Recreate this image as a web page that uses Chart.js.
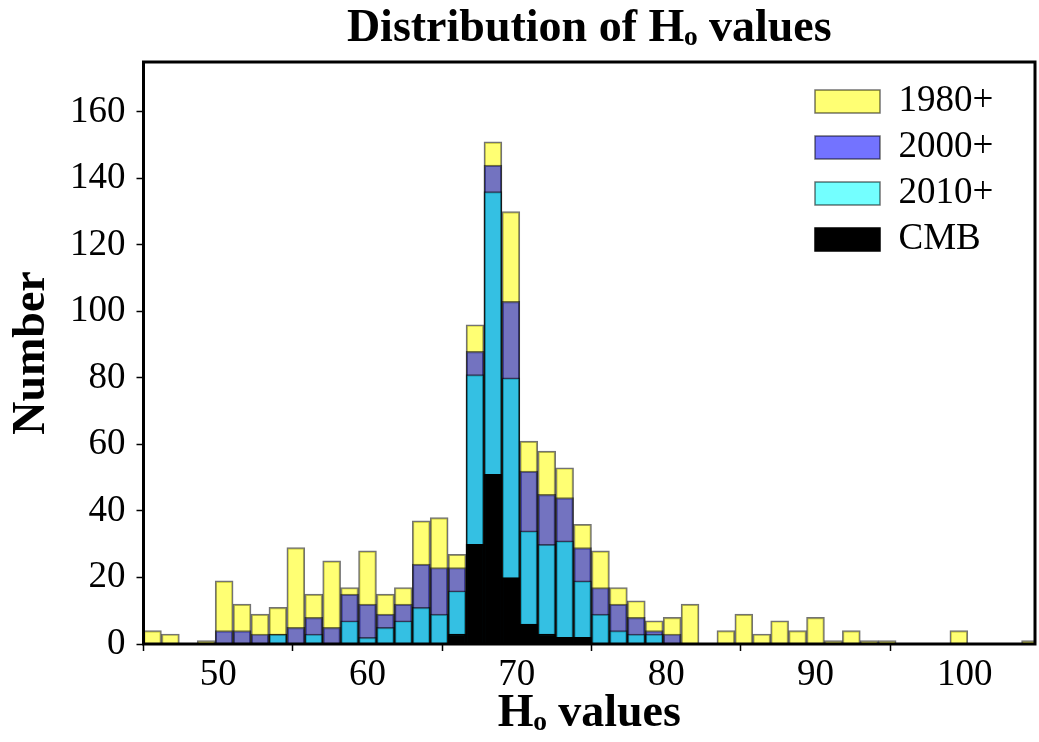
<!DOCTYPE html>
<html>
<head>
<meta charset="utf-8">
<script src="https://cdn.jsdelivr.net/npm/chart.js@4"></script>
<style>
  html, body { margin: 0; padding: 0; background: #fff; }
  canvas { display: block; }
</style>
</head>
<body>
<canvas id="hist" width="1039" height="742"></canvas>
<script>
// bin centres (bins are 1.2 wide, from 45 to 105)
const binCenters = [45.6, 46.8, 48.0, 49.2, 50.4, 51.6, 52.8, 54.0, 55.2, 56.4,
  57.6, 58.8, 60.0, 61.2, 62.4, 63.6, 64.8, 66.0, 67.2, 68.4,
  69.6, 70.8, 72.0, 73.2, 74.4, 75.6, 76.8, 78.0, 79.2, 80.4,
  81.6, 82.8, 84.0, 85.2, 86.4, 87.6, 88.8, 90.0, 91.2, 92.4,
  93.6, 94.8, 96.0, 97.2, 98.4, 99.6, 100.8, 102.0, 103.2, 104.4];

const counts1980 = [4, 3, 0, 1, 19, 12, 9, 11, 29, 15,
  25, 17, 28, 15, 17, 37, 38, 27, 96, 151,
  130, 61, 58, 53, 36, 28, 17, 13, 7, 8,
  12, 0, 4, 9, 3, 7, 4, 8, 1, 4,
  1, 1, 0, 0, 0, 4, 0, 0, 0, 1];

const counts2000 = [0, 0, 0, 0, 4, 4, 3, 3, 5, 8,
  5, 15, 12, 9, 12, 24, 23, 23, 88, 144,
  103, 52, 45, 44, 29, 17, 12, 8, 4, 3,
  0, 0, 0, 0, 0, 0, 0, 0, 0, 0,
  0, 0, 0, 0, 0, 0, 0, 0, 0, 0];

const counts2010 = [0, 0, 0, 0, 0, 0, 0, 3, 0, 3,
  0, 7, 2, 5, 7, 11, 9, 16, 81, 136,
  80, 34, 30, 31, 19, 9, 4, 3, 3, 0,
  0, 0, 0, 0, 0, 0, 0, 0, 0, 0,
  0, 0, 0, 0, 0, 0, 0, 0, 0, 0];

const countsCMB = [0, 0, 0, 0, 0, 0, 0, 0, 0, 0,
  0, 0, 0, 0, 0, 0, 0, 3, 30, 51,
  20, 6, 3, 2, 2, 0, 0, 0, 0, 0,
  0, 0, 0, 0, 0, 0, 0, 0, 0, 0,
  0, 0, 0, 0, 0, 0, 0, 0, 0, 0];

const xTicks = [50, 60, 70, 80, 90, 100];
const yTicks = [0, 20, 40, 60, 80, 100, 120, 140, 160];

const serif = "'Liberation Serif', 'DejaVu Serif', serif";
const edge = 'rgba(0,0,0,0.55)';

// black frame round the plot, and legend moved to the top right corner
const frame = {
  id: 'frame',
  afterLayout(chart) {
    const a = chart.chartArea;
    const lg = chart.legend;
    lg.left = a.right - 229;
    lg.right = lg.left + lg.width;
    lg.top = a.top + 12;
    lg.bottom = lg.top + lg.height;
  },
  afterDatasetsDraw(chart) {
    const { ctx, chartArea: a } = chart;
    ctx.save();
    ctx.strokeStyle = '#000';
    ctx.lineWidth = 3;
    ctx.strokeRect(a.left, a.top, a.right - a.left, a.bottom - a.top);
    ctx.restore();
  }
};

const tickGrid = {
  display: true,
  drawOnChartArea: false,
  drawTicks: true,
  tickLength: 7,
  tickWidth: 1.5,
  tickColor: '#000'
};

new Chart(document.getElementById('hist'), {
  type: 'bar',
  data: {
    labels: binCenters,
    datasets: [
      { label: '1980+', data: counts1980, backgroundColor: 'rgba(255,255,0,0.55)', borderColor: edge, borderWidth: 1.5, order: 4 },
      { label: '2000+', data: counts2000, backgroundColor: 'rgba(0,0,255,0.55)', borderColor: edge, borderWidth: 1.5, order: 3 },
      { label: '2010+', data: counts2010, backgroundColor: 'rgba(0,255,255,0.55)', borderColor: edge, borderWidth: 1.5, order: 2 },
      { label: 'CMB', data: countsCMB, backgroundColor: '#000', borderColor: '#000', borderWidth: 1.5, order: 1 }
    ]
  },
  options: {
    responsive: false,
    animation: false,
    layout: { padding: { left: 0, right: 4, top: 0, bottom: 0 } },
    datasets: {
      bar: { grouped: false, categoryPercentage: 1, barPercentage: 1 }
    },
    plugins: {
      tooltip: { enabled: false },
      title: {
        display: true,
        fullSize: false,
        text: 'Distribution of Hₒ values',
        color: '#000',
        font: { family: serif, size: 46, weight: 'bold' },
        padding: { top: 1.5, bottom: 5.3 }
      },
      legend: {
        position: 'chartArea',
        align: 'start',
        labels: {
          color: '#000',
          font: { family: serif, size: 37 },
          boxWidth: 65,
          boxHeight: 23,
          padding: 9,
          sort: (a, b) => a.datasetIndex - b.datasetIndex
        }
      }
    },
    scales: {
      x: {
        type: 'linear',
        offset: false,
        min: 45,
        max: 104.7,
        afterFit: (s) => { s.height = 98; },
        afterBuildTicks: (s) => { s.ticks = xTicks.map(v => ({ value: v })); },
        grid: tickGrid,
        border: { display: false },
        ticks: { color: '#000', font: { family: serif, size: 37 }, padding: 2, maxRotation: 0 },
        title: {
          display: true,
          text: 'Hₒ values',
          color: '#000',
          font: { family: serif, size: 46, weight: 'bold' },
          padding: { top: 0, bottom: 0 }
        }
      },
      y: {
        min: 0,
        max: 175,
        afterFit: (s) => { s.width = 143.5; },
        afterBuildTicks: (s) => { s.ticks = yTicks.map(v => ({ value: v })); },
        grid: tickGrid,
        border: { display: false },
        ticks: { color: '#000', font: { family: serif, size: 37 }, padding: 11 },
        title: {
          display: true,
          text: 'Number',
          color: '#000',
          font: { family: serif, size: 46, weight: 'bold' },
          padding: { top: 4.5, bottom: 0 }
        }
      }
    }
  },
  plugins: [frame]
});
</script>
</body>
</html>
